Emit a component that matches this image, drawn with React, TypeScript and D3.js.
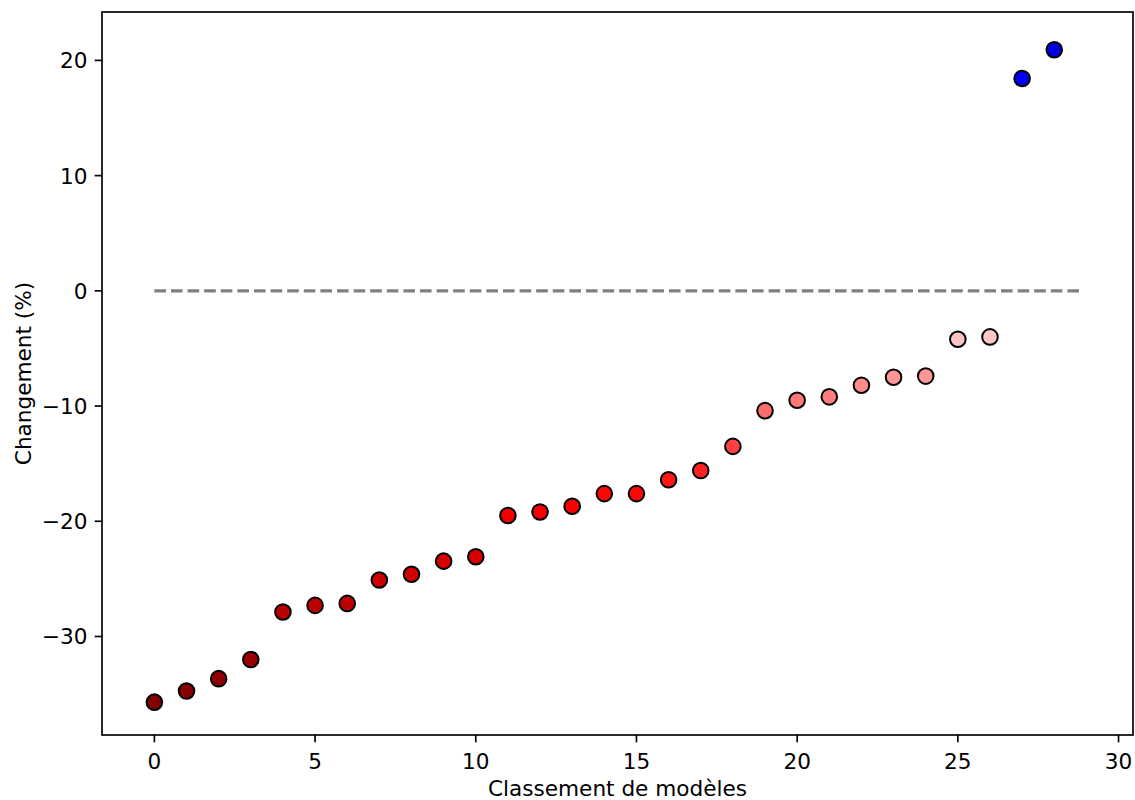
import React from "react";
import * as d3 from "d3";

const ranks: number[] = Array.from({ length: 29 }, (_, i) => i);
const changes: number[] = [
  -35.7, -34.73, -33.66, -32.0, -27.88, -27.3, -27.13, -25.1, -24.6, -23.46,
  -23.08, -19.5, -19.2, -18.7, -17.6, -17.6, -16.4, -15.6, -13.5, -10.4,
  -9.5, -9.2, -8.2, -7.5, -7.4, -4.2, -4.0, 18.43, 20.92,
];
const xTicks: number[] = [0, 5, 10, 15, 20, 25, 30];
const yTicks: number[] = [-30, -20, -10, 0, 10, 20];
const xLabel = "Classement de modèles";
const yLabel = "Changement (%)";

// seismic_r colormap stops
const seismicR = d3
  .scaleLinear<string>()
  .domain([0, 0.25, 0.5, 0.75, 1])
  .range(["#800000", "#ff0000", "#ffffff", "#0000ff", "#00004c"])
  .interpolate(d3.interpolateRgb)
  .clamp(true);

export default function App() {
  const W = 1135, H = 800;
  const left = 102, right = 1133, top = 12, bottom = 735;
  const x = d3.scaleLinear().domain([-1.63, 30.45]).range([left, right]);
  const y = d3.scaleLinear().domain([-38.55, 24.2]).range([bottom, top]);
  const vmax = 36;
  const norm = d3.scaleLinear().domain([-vmax, vmax]).range([0, 1]);
  const fs = 21.6;
  const font = "DejaVu Sans";
  const tickLen = 7.3;

  return (
    <svg
      width={W}
      height={H}
      style={{ position: "absolute", left: 0, top: 0, background: "#fff" }}
      fontFamily={font}
    >
      <rect x={0} y={0} width={W} height={H} fill="#fff" />
      {/* zero line */}
      <line
        x1={x(0)}
        x2={x(28.9)}
        y1={y(0)}
        y2={y(0)}
        stroke="#808080"
        strokeWidth={3.1}
        strokeDasharray="11.6,5"
      />
      {ranks.map((r, i) => (
        <circle
          key={i}
          cx={x(r)}
          cy={y(changes[i])}
          r={7.8}
          fill={seismicR(norm(changes[i]))}
          stroke="#000"
          strokeWidth={2}
        />
      ))}
      {/* spines */}
      <rect
        x={left}
        y={top}
        width={right - left}
        height={bottom - top}
        fill="none"
        stroke="#000"
        strokeWidth={1.67}
      />
      {xTicks.map((t) => (
        <g key={"x" + t}>
          <line x1={x(t)} x2={x(t)} y1={bottom} y2={bottom + tickLen} stroke="#000" strokeWidth={1.67} />
          <text x={x(t)} y={768.5} textAnchor="middle" fontSize={fs} fill="#000">
            {t < 0 ? "\u2212" + Math.abs(t) : t}
          </text>
        </g>
      ))}
      {yTicks.map((t) => (
        <g key={"y" + t}>
          <line x1={left - tickLen} x2={left} y1={y(t)} y2={y(t)} stroke="#000" strokeWidth={1.67} />
          <text x={left - tickLen - 7.3} y={y(t) + 7.9} textAnchor="end" fontSize={fs} fill="#000">
            {t < 0 ? "\u2212" + Math.abs(t) : t}
          </text>
        </g>
      ))}
      <text x={(left + right) / 2} y={796} textAnchor="middle" fontSize={fs} fill="#000">
        {xLabel}
      </text>
      <text
        transform={`translate(31, ${(top + bottom) / 2}) rotate(-90)`}
        textAnchor="middle"
        fontSize={fs}
        fill="#000"
      >
        {yLabel}
      </text>
    </svg>
  );
}
